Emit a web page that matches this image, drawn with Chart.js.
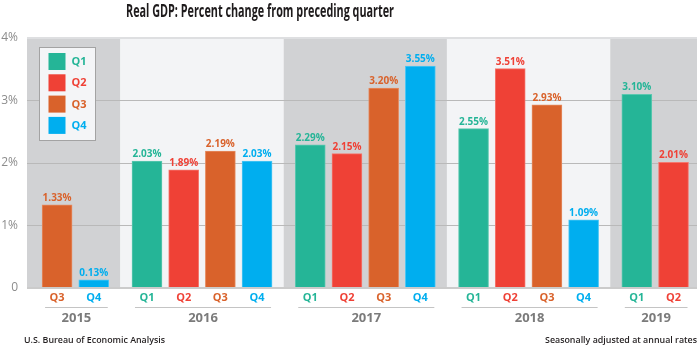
<!DOCTYPE html>
<html>
<head>
<meta charset="utf-8">
<title>Real GDP</title>
<script src="https://cdn.jsdelivr.net/npm/chart.js@4/dist/chart.umd.min.js"></script>
<style>
  html, body { margin: 0; padding: 0; background: #fff; }
  #wrap { width: 700px; height: 346px; }
</style>
</head>
<body>
<div id="wrap"><canvas id="gdpChart" width="700" height="346"></canvas></div>
<script>
// Real GDP, percent change from preceding quarter (annual rate)
const years = ["2015", "2016", "2017", "2018", "2019"];
const yearQuarters = [
    ["Q3", "Q4"],
    ["Q1", "Q2", "Q3", "Q4"],
    ["Q1", "Q2", "Q3", "Q4"],
    ["Q1", "Q2", "Q3", "Q4"],
    ["Q1", "Q2"]
];
const gdp2015 = [1.33, 0.13];
const gdp2016 = [2.03, 1.89, 2.19, 2.03];
const gdp2017 = [2.29, 2.15, 3.20, 3.55];
const gdp2018 = [2.55, 3.51, 2.93, 1.09];
const gdp2019 = [3.10, 2.01];
const yearValues = [gdp2015, gdp2016, gdp2017, gdp2018, gdp2019];
const quarterNames = ["Q1", "Q2", "Q3", "Q4"];
const yTicks = [0, 1, 2, 3, 4];

const quarterColors = { Q1: "#25b597", Q2: "#ef4136", Q3: "#d9622b", Q4: "#00aeef" };
const quarterEdges = { Q1: "#5cc8b0", Q2: "#f4776e", Q3: "#e58b60", Q4: "#4cc6f3" };
const BAND_DARK = "#d1d2d4";
const BAND_LIGHT = "#f3f4f6";
const FONT = '"Open Sans", "Noto Sans", sans-serif';

// one slot per quarter, plus a little extra room between years
const GAP = 0.45;
const bars = [];
let slot = 0;
years.forEach((yr, yi) => {
    yearQuarters[yi].forEach((q, qi) => {
        bars.push({ x: slot + yi * GAP, y: yearValues[yi][qi], q: q, year: yi });
        slot++;
    });
});

function groupOf(yi) {
    return bars.filter(b => b.year === yi);
}

// squeeze text horizontally so it fills a given width
function fillTextWidth(ctx, text, cx, cy, width) {
    const w = ctx.measureText(text).width;
    const k = Math.min(1, width / w);
    ctx.save();
    ctx.translate(cx, cy);
    ctx.scale(k, 1);
    ctx.fillText(text, 0, 0);
    ctx.restore();
}

const bandsPlugin = {
    id: "bands",
    beforeDraw(chart) {
        const { ctx, chartArea: a, scales: { x } } = chart;
        ctx.save();
        years.forEach((yr, yi) => {
            const g = groupOf(yi);
            let left = a.left, right = a.right;
            if (yi > 0) {
                const prev = groupOf(yi - 1);
                left = x.getPixelForValue((prev[prev.length - 1].x + g[0].x) / 2);
            }
            if (yi < years.length - 1) {
                const next = groupOf(yi + 1);
                right = x.getPixelForValue((g[g.length - 1].x + next[0].x) / 2);
            }
            ctx.fillStyle = yi % 2 === 0 ? BAND_DARK : BAND_LIGHT;
            ctx.fillRect(left, a.top, right - left, a.bottom - a.top);
        });
        ctx.restore();
    }
};

const labelsPlugin = {
    id: "labels",
    afterDatasetsDraw(chart) {
        const { ctx, chartArea: a, scales: { x } } = chart;
        const meta = chart.getDatasetMeta(0);
        ctx.save();
        ctx.textAlign = "center";

        // value labels and quarter names
        bars.forEach((b, i) => {
            const el = meta.data[i];
            ctx.fillStyle = quarterColors[b.q];
            ctx.font = "bold 10px " + FONT;
            ctx.textBaseline = "alphabetic";
            ctx.fillText(b.y.toFixed(2) + "%", el.x, el.y - 4);
            ctx.font = "bold 11px " + FONT;
            ctx.textBaseline = "middle";
            ctx.fillText(b.q, el.x, a.bottom + 10);
        });

        // year names with a rule over each
        years.forEach((yr, yi) => {
            const g = groupOf(yi);
            const x0 = x.getPixelForValue(g[0].x) - 12;
            const x1 = x.getPixelForValue(g[g.length - 1].x) + 14;
            ctx.strokeStyle = "#c4c4c4";
            ctx.lineWidth = 1;
            ctx.beginPath();
            ctx.moveTo(x0, a.bottom + 19.5);
            ctx.lineTo(x1, a.bottom + 19.5);
            ctx.stroke();
            ctx.fillStyle = "#7b7b7b";
            ctx.font = "bold 13px " + FONT;
            ctx.textBaseline = "middle";
            ctx.fillText(yr, (x0 + x1) / 2, a.bottom + 30);
        });
        ctx.restore();
    },
    afterDraw(chart) {
        const { ctx, chartArea: a } = chart;
        ctx.save();

        // legend box
        const lx = a.left + 12.5, ly = a.top + 9.5;
        ctx.fillStyle = "#f4f5f7";
        ctx.fillRect(lx, ly, 56, 93);
        ctx.strokeStyle = "#a3a3a3";
        ctx.lineWidth = 1;
        ctx.strokeRect(lx, ly, 56, 93);
        quarterNames.forEach((q, i) => {
            const sy = ly + 5.5 + i * 21.3;
            ctx.fillStyle = quarterColors[q];
            ctx.fillRect(lx + 9, sy, 17, 17);
            ctx.font = "bold 11px " + FONT;
            ctx.textAlign = "left";
            ctx.textBaseline = "middle";
            ctx.fillText(q, lx + 32, sy + 9);
        });

        // title
        ctx.fillStyle = "#1e1b1c";
        ctx.font = "bold 17px " + FONT;
        ctx.textAlign = "center";
        ctx.textBaseline = "middle";
        fillTextWidth(ctx, "Real GDP: Percent change from preceding quarter", 260, 12.5, 268);

        // source and note
        ctx.fillStyle = "#231f20";
        ctx.font = "600 9.5px " + FONT;
        ctx.textAlign = "left";
        fillTextWidth(ctx, "U.S. Bureau of Economic Analysis", 24, 340, 141);
        ctx.textAlign = "right";
        fillTextWidth(ctx, "Seasonally adjusted at annual rates", 697, 340, 152);
        ctx.restore();
    }
};

new Chart(document.getElementById("gdpChart"), {
    type: "bar",
    data: {
        datasets: [
            {
                data: bars.map(b => ({ x: b.x, y: b.y })),
                backgroundColor: bars.map(b => quarterColors[b.q]),
                borderColor: bars.map(b => quarterEdges[b.q]),
                borderWidth: 1,
                barThickness: 30
            }
        ]
    },
    options: {
        responsive: false,
        animation: false,
        devicePixelRatio: 1,
        layout: {
            padding: { top: 38, bottom: 58, left: 0, right: 3 }
        },
        plugins: {
            legend: { display: false },
            tooltip: { enabled: false }
        },
        scales: {
            x: {
                type: "linear",
                display: false,
                offset: false,
                bounds: "ticks",
                min: bars[0].x - 0.82,
                max: bars[bars.length - 1].x + 0.64
            },
            y: {
                min: yTicks[0],
                max: yTicks[yTicks.length - 1],
                afterBuildTicks: s => { s.ticks = yTicks.map(v => ({ value: v })); },
                afterFit: s => { s.width = 27; },
                border: { display: false },
                grid: {
                    drawTicks: false,
                    color: c => c.tick.value === 0 ? "#cbcbcb" : (c.tick.value === 4 ? "#dedfe1" : "#b9b9b9"),
                    lineWidth: c => (c.tick.value === 0 || c.tick.value === 4) ? 2 : 1
                },
                ticks: {
                    padding: 9,
                    color: "#8c8c8c",
                    font: { family: FONT, size: 12 },
                    callback: v => v === 0 ? "0" : v + "%"
                }
            }
        }
    },
    plugins: [bandsPlugin, labelsPlugin]
});
</script>
</body>
</html>
